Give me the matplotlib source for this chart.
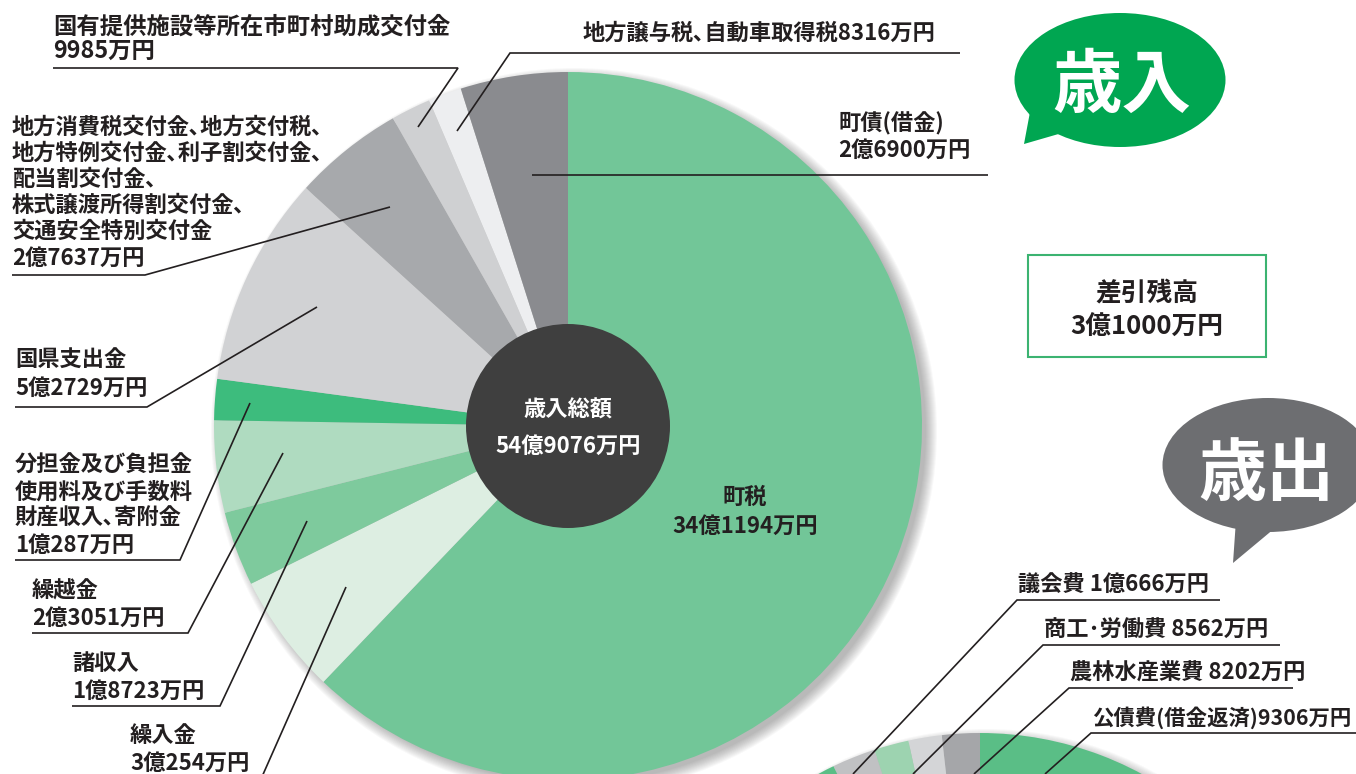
import matplotlib
matplotlib.use("Agg")
import matplotlib.pyplot as plt
from matplotlib.patches import Circle, Ellipse, Polygon, Rectangle

plt.rcParams['font.family'] = ['Noto Sans CJK JP', 'DejaVu Sans']

W, H = 1356, 774

# ---------------- data (万円) ----------------
rev_names = [
    ['町税'],
    ['繰入金'],
    ['諸収入'],
    ['繰越金'],
    ['分担金及び負担金', '使用料及び手数料', '財産収入､寄附金'],
    ['国県支出金'],
    ['地方消費税交付金､地方交付税､', '地方特例交付金､利子割交付金､', '配当割交付金､',
     '株式譲渡所得割交付金､', '交通安全特別交付金'],
    ['国有提供施設等所在市町村助成交付金'],
    ['地方譲与税､自動車取得税'],
    ['町債(借金)'],
]
rev_values = [341194, 30254, 18723, 23051, 10287, 52729, 27637, 9985, 8316, 26900]
rev_colors = ['#72C698', '#DDEEE2', '#7ECA9D', '#AFDBC0', '#3DBC7D',
              '#D1D2D4', '#A7A9AC', '#CFD0D2', '#EDEEF0', '#8A8B8F']

balance = 31000

exp_names = ['公債費(借金返済)', '農林水産業費', '商工･労働費', '議会費']
exp_values = [9306, 8202, 8562, 10666]
exp_colors = ['#A5A6A9', '#D4D5D7', '#9DD3B0', '#C0C1C3']
exp_rest_color = '#5ABE86'


def yen(v):
    oku, man = divmod(v, 10000)
    return f'{oku}億{man}万円' if oku else f'{man}万円'


rev_total = sum(rev_values)
exp_total = rev_total - balance
exp_rest = exp_total - sum(exp_values)

TXT = '#231F20'
FS = 16

fig = plt.figure(figsize=(W / 100, H / 100), dpi=100)
ax = fig.add_axes([0, 0, 1, 1])


def Y(y):
    return H - y


def put(x, y, s, size=FS, color=TXT, ha='left', va='baseline'):
    ax.text(x, Y(y), s, fontsize=size, color=color, ha=ha, va=va,
            fontweight='bold', zorder=10)


def seg(pts, color='#231F20', lw=1.2):
    ax.plot([p[0] for p in pts], [Y(p[1]) for p in pts], color=color, lw=lw,
            solid_capstyle='butt', solid_joinstyle='miter', zorder=9)


def shadow(cx, cy, r):
    for i in range(12):
        ax.add_patch(Circle((cx + 6, Y(cy) - 5), r - 2 + i * 1.0, color='#333333',
                            alpha=0.03, lw=0, zorder=1))


# ---------------- revenue pie ----------------
c1x, c1y, r1 = 568, 426, 354
shadow(c1x, c1y, r1)
wedges, _ = ax.pie(rev_values, colors=rev_colors, startangle=90, counterclock=False,
                   center=(c1x, Y(c1y)), radius=r1, wedgeprops=dict(linewidth=0))
for w in wedges:
    w.set_zorder(2)
ax.add_patch(Circle((c1x, Y(c1y)), 102, color='#3F3F3F', lw=0, zorder=3))
put(c1x, 417, '歳入総額', color='white', ha='center')
put(c1x, 453, yen(rev_total), color='white', ha='center')

# 町税 label inside
put(745, 503.5, rev_names[0][0], ha='center')
put(745, 533, yen(rev_values[0]), ha='center')

# label blocks: (index, x_left, baselines of lines, size)
blocks = [
    (7, 53, [33.5, 57.5], 16.8),
    (8, 583, [39.5], FS),
    (9, 838, [130.5, 156.5], FS),
    (6, 12, [133.5, 159.5, 185.5, 211.5, 237.5, 264.5], FS),
    (5, 15, [366.5, 394.5], FS),
    (4, 15, [472, 498.5, 525, 551.5], FS),
    (3, 32, [597, 625], FS),
    (2, 72, [670, 698], FS),
    (1, 130, [742, 770], FS),
]
for idx, x0, bls, size in blocks:
    lines = list(rev_names[idx])
    if idx == 8:
        lines = [lines[0] + yen(rev_values[idx])]
    else:
        lines = lines + [yen(rev_values[idx])]
    for s, b in zip(lines, bls):
        put(x0, b, s, size=size)

# leader lines (pixel coords)
seg([(53, 68), (458, 68), (418, 127)])
seg([(960, 53), (510, 53), (457, 131)])
seg([(988, 175), (532, 175)])
seg([(12, 275), (145, 275), (390, 207)])
seg([(15, 407), (147, 407), (317, 307)])
seg([(15, 560), (180, 560), (250, 403)])
seg([(32, 633), (188, 633), (283, 453)])
seg([(72, 706), (220, 706), (307, 521)])
seg([(130, 779), (261, 779), (346, 587)])

# ---------------- expenditure pie (mostly off-canvas) ----------------
c2x, c2y, r2 = 980, 1073, 340
shadow(c2x, c2y, r2)
w2, _ = ax.pie(exp_values + [exp_rest], colors=exp_colors + [exp_rest_color],
               startangle=90, counterclock=True, center=(c2x, Y(c2y)), radius=r2,
               wedgeprops=dict(linewidth=0))
for w in w2:
    w.set_zorder(2)

exp_text = [f'{exp_names[0]}{yen(exp_values[0])}',
            f'{exp_names[1]} {yen(exp_values[1])}',
            f'{exp_names[2]} {yen(exp_values[2])}',
            f'{exp_names[3]} {yen(exp_values[3])}']
exp_layout = [  # x_left, baseline, underline y, underline right, leader end, size
    (1092, 725, 733, 1356, (1045, 774), 15.4),
    (1070, 680, 688, 1293, (974, 774), FS),
    (1044, 637, 645, 1280, (913, 774), FS),
    (1018, 592, 600, 1220, (853, 774), FS),
]
for s, (x0, b, uy, ux, end, size) in zip(exp_text, exp_layout):
    put(x0, b, s, size=size)
    seg([(ux, uy), (x0 - 1, uy), end])

# ---------------- balance box ----------------
ax.add_patch(Rectangle((1028, Y(357)), 238, 102, fill=False, edgecolor='#3BB371',
                       lw=1.5, zorder=5))
put(1147, 300, '差引残高', size=18.5, ha='center')
put(1147, 335, yen(balance), size=18.5, ha='center')

# ---------------- speech bubbles ----------------
ax.add_patch(Ellipse((1120, Y(80)), 211, 134, color='#00A651', lw=0, zorder=5))
ax.add_patch(Polygon([(1030, Y(112)), (1024, Y(144)), (1062, Y(133)), (1060, Y(110))],
                     closed=True, color='#00A651', lw=0, zorder=5))
put(1122, 107, '歳入', size=50, color='white', ha='center')

ax.add_patch(Ellipse((1268, Y(465)), 211, 134, color='#6D6E71', lw=0, zorder=5))
ax.add_patch(Polygon([(1236, Y(520)), (1233, Y(563)), (1275, Y(528)), (1265, Y(515))],
                     closed=True, color='#6D6E71', lw=0, zorder=5))
put(1266, 495, '歳出', size=49, color='white', ha='center')

ax.set_xlim(0, W)
ax.set_ylim(0, H)
ax.set_aspect('auto')
ax.set_axis_off()
fig.savefig('out.png', dpi=100, facecolor='white')
